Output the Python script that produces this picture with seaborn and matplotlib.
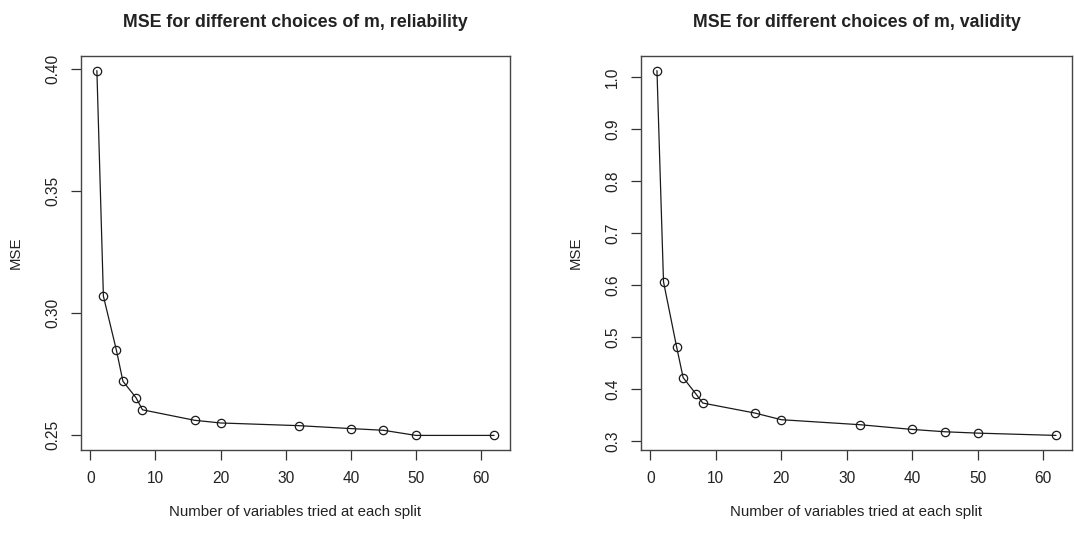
import matplotlib
matplotlib.use("Agg")
import matplotlib.pyplot as plt
import seaborn as sns
import pandas as pd

m_values = [1, 2, 4, 5, 7, 8, 16, 20, 32, 40, 45, 50, 62]
mse_reliability = [0.3993, 0.3068, 0.2846, 0.2719, 0.2652, 0.2602, 0.2559,
                   0.2548, 0.2537, 0.2525, 0.2518, 0.2497, 0.2497]
mse_validity = [1.013, 0.607, 0.482, 0.4227, 0.3906, 0.3738, 0.3545,
                0.3418, 0.3322, 0.3231, 0.3186, 0.3160, 0.3116]
titles = ["MSE for different choices of m, reliability",
          "MSE for different choices of m, validity"]
xticks = [0, 10, 20, 30, 40, 50, 60]
yticks_rel = [0.25, 0.30, 0.35, 0.40]
yticks_val = [0.3, 0.4, 0.5, 0.6, 0.7, 0.8, 0.9, 1.0]
yticklabels_rel = ["0.25", "0.30", "0.35", "0.40"]
yticklabels_val = ["0.3", "0.4", "0.5", "0.6", "0.7", "0.8", "0.9", "1.0"]

sns.set_style("white")
plt.rcParams['font.family'] = ['Liberation Sans', 'DejaVu Sans']

fig = plt.figure(figsize=(10.74, 5.4), dpi=100)
W, H = 1074, 540
ax1 = fig.add_axes([81 / W, 1 - 450 / H, (510 - 81) / W, (450 - 56) / H])
ax2 = fig.add_axes([641 / W, 1 - 450 / H, (1072 - 641) / W, (450 - 56) / H])

txt = "#222222"
for ax, y, title, yt, ytl in [
    (ax1, mse_reliability, titles[0], yticks_rel, yticklabels_rel),
    (ax2, mse_validity, titles[1], yticks_val, yticklabels_val),
]:
    df = pd.DataFrame({"m": m_values, "mse": y})
    sns.lineplot(data=df, x="m", y="mse", ax=ax, color="#1a1a1a", linewidth=0.9,
                 marker="o", markersize=6, markerfacecolor="none",
                 markeredgecolor="#1a1a1a", markeredgewidth=0.9)
    ax.margins(x=0.04, y=0.04)
    ax.set_xticks(xticks)
    ax.set_xticklabels([str(t) for t in xticks])
    ax.set_yticks(yt)
    ax.set_yticklabels(ytl, rotation=90, va="center")
    ax.tick_params(axis="both", direction="out", length=7, width=0.9,
                   color="#333333", labelsize=11.2, labelcolor=txt, pad=8,
                   bottom=True, left=True)
    for s in ax.spines.values():
        s.set_visible(True)
        s.set_color("#444444")
        s.set_linewidth(1.0)
    ax.set_xlabel("Number of variables tried at each split", fontsize=10.8,
                  color=txt, labelpad=14)
    ax.set_ylabel("MSE", fontsize=10.8, color=txt, labelpad=16)
    ax.set_title(title, fontsize=12.8, fontweight="bold", color=txt, pad=21)

fig.savefig("out.png", dpi=100)
